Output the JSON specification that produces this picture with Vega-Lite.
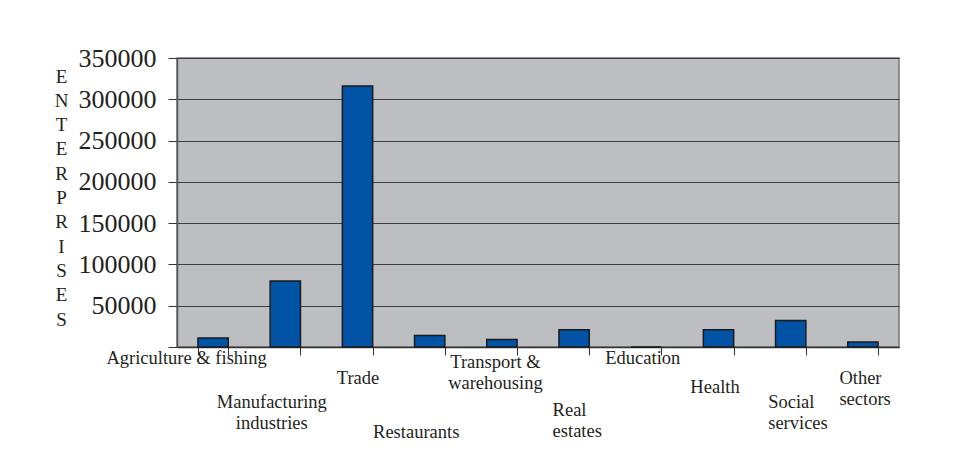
{
  "$schema": "https://vega.github.io/schema/vega-lite/v6.json",
  "width": 722,
  "height": 289,
  "autosize": {"type": "none"},
  "padding": {"left": 177, "top": 58, "right": 55, "bottom": 121},
  "background": "white",
  "config": {
    "view": {"fill": "#bdbec2", "stroke": "#767676", "strokeWidth": 1.5},
    "font": "Liberation Serif"
  },
  "data": {
    "values": [
      {"sector": "Agriculture & fishing", "enterprises": 11000},
      {"sector": "Manufacturing industries", "enterprises": 80000},
      {"sector": "Trade", "enterprises": 316000},
      {"sector": "Restaurants", "enterprises": 14000},
      {"sector": "Transport & warehousing", "enterprises": 9000},
      {"sector": "Real estates", "enterprises": 21000},
      {"sector": "Education", "enterprises": 0},
      {"sector": "Health", "enterprises": 21000},
      {"sector": "Social services", "enterprises": 32000},
      {"sector": "Other sectors", "enterprises": 6000}
    ]
  },
  "mark": {"type": "bar", "color": "#0053a5", "stroke": "#1b1b1b", "strokeWidth": 1.5},
  "encoding": {
    "x": {
      "field": "sector",
      "type": "nominal",
      "sort": null,
      "scale": {"paddingInner": 0.58, "paddingOuter": 0.29},
      "axis": {
        "title": null,
        "labelAngle": 0,
        "tickBand": "extent",
        "tickSize": 8,
        "tickColor": "#333333",
        "domainColor": "#333333",
        "domainWidth": 1.5,
        "labelFont": "Liberation Serif",
        "labelFontSize": 18.5,
        "labelColor": "#231f20",
        "labelLineHeight": 21,
        "labelBaseline": "alphabetic",
        "labelOverlap": false,
        "labelBound": false,
        "labelFlush": false,
        "labelExpr": "datum.label == 'Manufacturing industries' ? ['Manufacturing','industries'] : datum.label == 'Transport & warehousing' ? ['Transport &','warehousing'] : datum.label == 'Real estates' ? ['Real','estates'] : datum.label == 'Social services' ? ['Social','services'] : datum.label == 'Other sectors' ? ['Other','sectors'] : datum.label",
        "labelPadding": {"expr": "datum.value == 'Manufacturing industries' ? 52 : datum.value == 'Trade' ? 28 : datum.value == 'Restaurants' ? 82 : datum.value == 'Transport & warehousing' ? 12 : datum.value == 'Real estates' ? 60 : datum.value == 'Health' ? 37 : datum.value == 'Social services' ? 52 : datum.value == 'Other sectors' ? 28 : 8"},
        "labelOffset": {"expr": "datum.value == 'Agriculture & fishing' ? -27 : datum.value == 'Manufacturing industries' ? -14 : datum.value == 'Restaurants' ? -14 : datum.value == 'Transport & warehousing' ? -7 : datum.value == 'Real estates' ? -22 : datum.value == 'Education' ? -4 : datum.value == 'Health' ? -4 : datum.value == 'Social services' ? -23 : datum.value == 'Other sectors' ? -24 : 0"},
        "labelAlign": {"expr": "datum.value == 'Real estates' || datum.value == 'Social services' || datum.value == 'Other sectors' ? 'left' : 'center'"}
      }
    },
    "y": {
      "field": "enterprises",
      "type": "quantitative",
      "scale": {"domain": [0, 350000], "nice": false},
      "axis": {
        "values": [0, 50000, 100000, 150000, 200000, 250000, 300000, 350000],
        "format": "d",
        "labelExpr": "datum.value == 0 ? '' : datum.label",
        "labelFont": "Liberation Serif",
        "labelFontSize": 26,
        "labelColor": "#231f20",
        "labelPadding": 12,
        "tickSize": 9,
        "tickColor": "#333333",
        "grid": true,
        "gridColor": "#3c3c3c",
        "gridWidth": 1,
        "domainColor": "#555555",
        "domainWidth": 1.5,
        "title": ["E", "N", "T", "E", "R", "P", "R", "I", "S", "E", "S"],
        "titleAngle": 0,
        "titleX": -116,
        "titleY": 24,
        "titleAlign": "center",
        "titleBaseline": "alphabetic",
        "titleFont": "Liberation Serif",
        "titleFontSize": 19,
        "titleFontWeight": "normal",
        "titleLineHeight": 24.3,
        "titleColor": "#231f20"
      }
    }
  }
}
